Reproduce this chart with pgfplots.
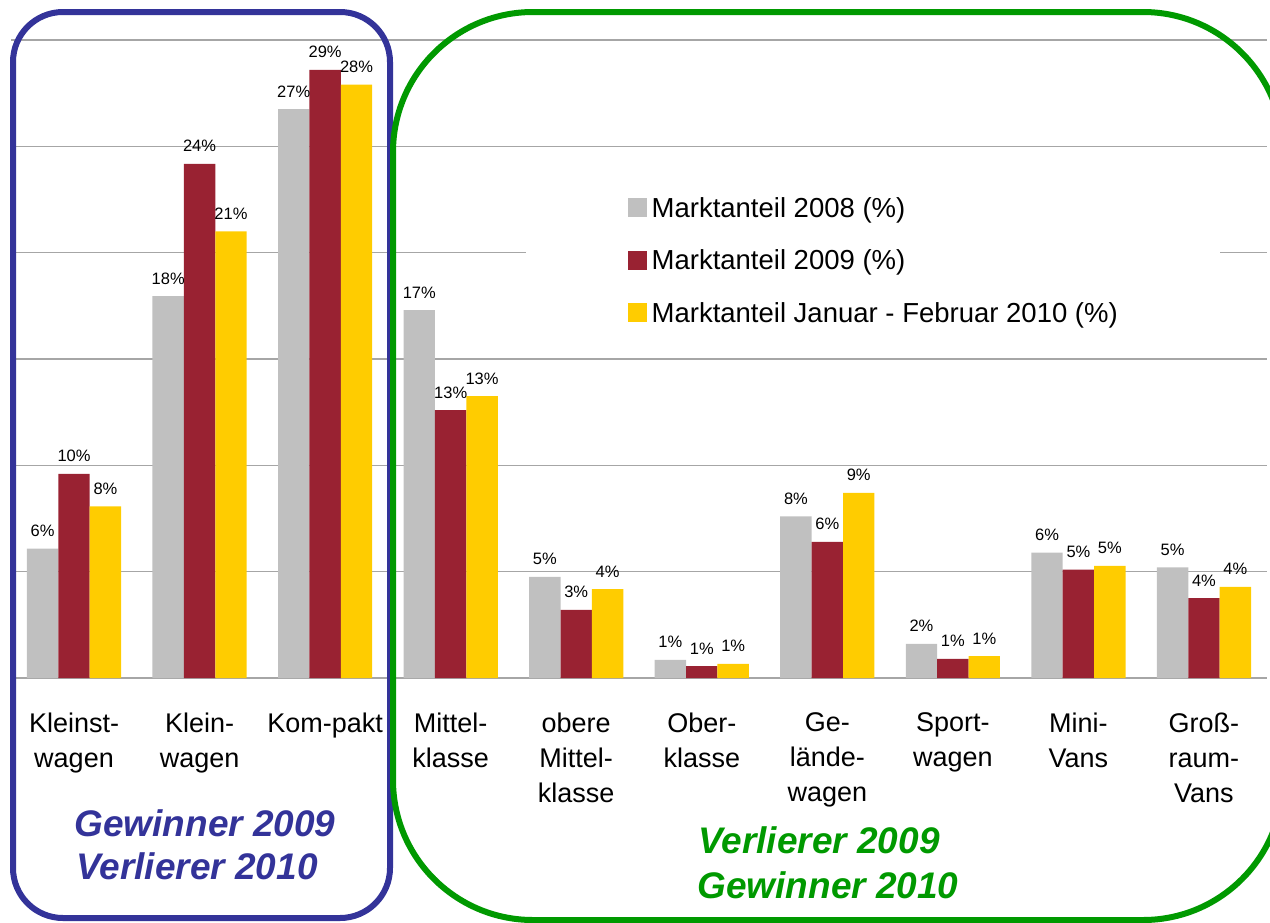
\documentclass[border=0pt]{standalone}
\usepackage{pgfplots}
\pgfplotsset{compat=1.18}
\usepackage{fontspec}
\setmainfont{Liberation Sans}
\definecolor{cA}{HTML}{C0C0C0}
\definecolor{cB}{HTML}{992232}
\definecolor{cC}{HTML}{FFCC00}
\definecolor{gridc}{HTML}{A6A6A6}
\definecolor{boxblue}{HTML}{333399}
\definecolor{boxgreen}{HTML}{009900}
\begin{document}
\begin{tikzpicture}
\path[use as bounding box] (0pt,0pt) rectangle (635pt,-461pt);
\begin{axis}[
  at={(5.625pt,-339pt)}, anchor=south west,
  scale only axis, width=627.75pt, height=319pt,
  xmin=-0.5, xmax=9.5, ymin=0, ymax=30,
  enlargelimits=false, clip=false,
  ybar=0pt, bar width=15.7pt,
  axis line style={draw=none},
  ytick={0,5,...,30}, yticklabels={},
  major tick length=0pt,
  ymajorgrids, grid style={draw=gridc, line width=0.75pt},
  xtick={0,...,9},
  xticklabels={{Kleinst-\\wagen},{Klein-\\wagen},{Kom-pakt},{Mittel-\\klasse},{obere\\Mittel-\\klasse},{Ober-\\klasse},{Ge-\\lände-\\wagen},{Sport-\\wagen},{Mini-\\Vans},{Groß-\\raum-\\Vans}},
  xticklabel style={font=\fontsize{13.5pt}{17.5pt}\selectfont, align=center, inner sep=0pt, anchor=north, yshift=-17.2pt},
  /pgf/number format/assume math mode=true,
  nodes near coords={\pgfmathprintnumber[fixed,precision=0]{\pgfplotspointmeta}\%},
  every node near coord/.append style={font=\fontsize{8.25pt}{10pt}\selectfont, anchor=base, yshift=6pt, inner sep=0pt, text=black},
  legend image code/.code={\fill[#1,draw=none] (0pt,-4.75pt) rectangle (9.5pt,4.75pt);},
  legend cell align=left,
  legend style={draw=none, fill=white, at={(axis cs:3.594,23.89)}, anchor=north west,
    font=\fontsize{13.75pt}{16pt}\selectfont,
    inner xsep=51pt, inner ysep=14pt, row sep=16.75pt, column sep=2.5pt,
    nodes={inner sep=0pt, text height=9.5pt, text depth=0pt}},
]
\addplot[fill=cA, draw=none] coordinates {(0,6.08) (1,17.96) (2,26.75) (3,17.3) (4,4.75) (5,0.85) (6,7.6) (7,1.6) (8,5.9) (9,5.2)};
\addplot[fill=cB, draw=none] coordinates {(0,9.6) (1,24.17) (2,28.6) (3,12.6) (4,3.2) (5,0.56) (6,6.4) (7,0.9) (8,5.1) (9,3.76)};
\addplot[fill=cC, draw=none] coordinates {(0,8.07) (1,21.0) (2,27.9) (3,13.26) (4,4.18) (5,0.66) (6,8.7) (7,1.03) (8,5.27) (9,4.28)};
\legend{Marktanteil 2008 (\%), Marktanteil 2009 (\%), Marktanteil Januar - Februar 2010 (\%)}
\end{axis}
\begin{scope}[x=0.5pt,y=-0.5pt]
\draw[boxblue, line width=3pt, rounded corners=25pt] (13,12) rectangle (390,918);
\draw[boxgreen, line width=3pt, rounded corners=70pt] (393,12) rectangle (1283,920);
\begin{scope}[every node/.style={anchor=base, inner sep=0pt, font=\fontsize{18.5pt}{22pt}\selectfont\bfseries\itshape}]
\node[text=boxblue] at (205,836) {Gewinner 2009};
\node[text=boxblue] at (197,879) {Verlierer 2010};
\node[text=boxgreen] at (819,853) {Verlierer 2009};
\node[text=boxgreen] at (828,898) {Gewinner 2010};
\end{scope}
\end{scope}
\end{tikzpicture}
\end{document}
